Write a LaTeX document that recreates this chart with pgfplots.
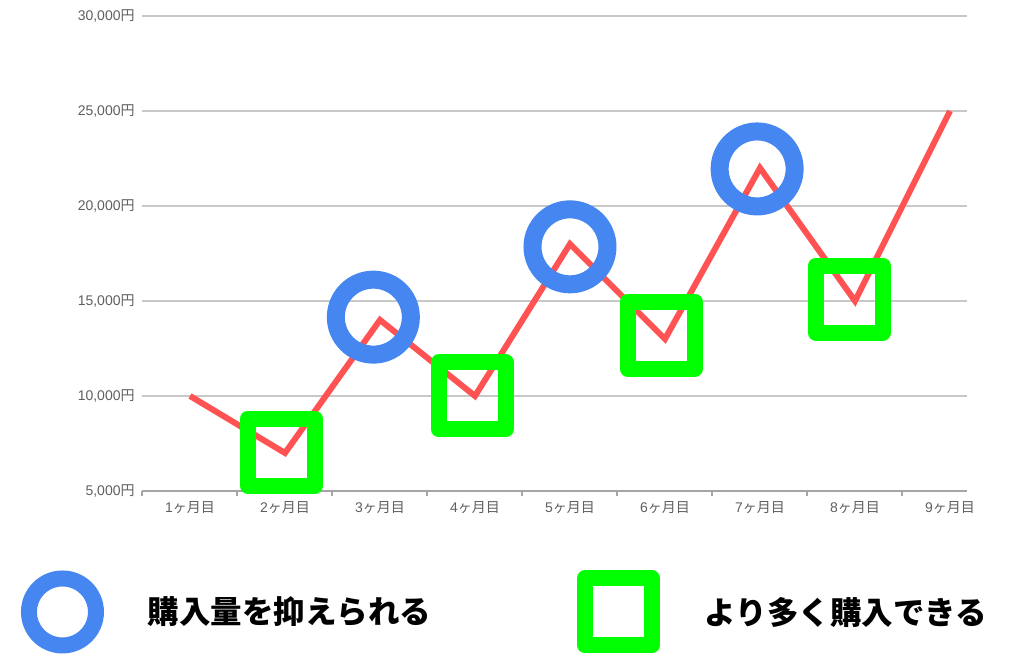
\documentclass[border=0pt]{standalone}
\usepackage{fontspec}
\setmainfont{Liberation Sans}
\newfontfamily\jp{Noto Sans CJK JP}
\usepackage{pgfplots}
\pgfplotsset{compat=1.18}
\definecolor{linered}{RGB}{255,82,82}
\definecolor{ringblue}{RGB}{70,134,240}
\definecolor{boxgreen}{RGB}{0,255,0}
\definecolor{gridgray}{RGB}{200,200,200}
\definecolor{axisgray}{RGB}{165,165,165}
\definecolor{labelgray}{RGB}{95,95,95}
\begin{document}
\begin{tikzpicture}
\useasboundingbox (0,0) rectangle (512pt,333.5pt);
\begin{axis}[
  at={(71.25pt,88pt)}, anchor=south west,
  scale only axis, width=412.25pt, height=237.5pt,
  xmin=0.5, xmax=9.179, ymin=5000, ymax=30000,
  clip=false,
  scaled y ticks=false,
  axis x line*=bottom, axis y line*=left,
  y axis line style={draw=none},
  x axis line style={draw=axisgray, line width=1pt},
  tick align=outside,
  major tick length=0pt,
  minor tick length=2.5pt,
  minor tick style={draw=axisgray, line width=1pt},
  xtick={1,2,3,4,5,6,7,8,9},
  minor xtick={0.5,1.5,2.5,3.5,4.5,5.5,6.5,7.5,8.5},
  xticklabels={1{\jp ヶ月目},2{\jp ヶ月目},3{\jp ヶ月目},4{\jp ヶ月目},5{\jp ヶ月目},6{\jp ヶ月目},7{\jp ヶ月目},8{\jp ヶ月目},9{\jp ヶ月目}},
  xticklabel style={anchor=north, inner sep=0pt, yshift=-5pt, font=\fontsize{7}{8}\selectfont, text=labelgray},
  ytick={5000,10000,15000,20000,25000,30000},
  yticklabels={{5,000{\jp 円}},{10,000{\jp 円}},{15,000{\jp 円}},{20,000{\jp 円}},{25,000{\jp 円}},{30,000{\jp 円}}},
  yticklabel style={anchor=east, inner sep=0pt, xshift=-3.75pt, font=\fontsize{7}{8}\selectfont, text=labelgray},
  ymajorgrids,
  grid style={draw=gridgray, line width=1pt},
  legend columns=2,
  legend cell align=left,
  legend style={at={(axis description cs:-0.1474,-0.2547)}, anchor=west,
    draw=none, fill=none, inner sep=0pt, outer sep=0pt, column sep=0pt,
    nodes={inner sep=0pt, text=black},
    font=\fontsize{15.75}{18}\jp\bfseries},
]
% price per month
\addplot[forget plot, draw=linered, line width=3pt] coordinates {
  (1,10000) (2,7000) (3,14000) (4,10000) (5,18000)
  (6,13000) (7,22000) (8,15000) (9,25000)};
% months where the amount bought is kept down
\addplot[only marks, mark=o, mark size=18.75pt,
  mark options={draw=ringblue, line width=9pt, fill=none},
  legend image code/.code={
    \path[draw=none, fill=none] (-20.75pt,-21pt) rectangle (20.75pt,21pt);
    \draw[ringblue, line width=8pt] (0pt,0pt) circle[radius=16.75pt];}]
  coordinates {(2.93,14150) (5.0,17850) (6.97,21950)};
\addlegendentry{\makebox[236.5pt][l]{\hspace*{22pt}購入量を抑えられる}}
% months where more can be bought
\addplot[only marks, mark=square, mark size=16.75pt,
  mark options={draw=boxgreen, line width=8pt, line join=round, fill=none},
  legend image code/.code={
    \path[draw=none, fill=none] (-20.75pt,-21pt) rectangle (22.75pt,21pt);
    \draw[boxgreen, line width=8pt, line join=round] (-16.75pt,-16.75pt) rectangle (16.75pt,16.75pt);}]
  coordinates {(1.96,7050) (3.97,10000) (5.96,13200) (7.94,15100)};
\addlegendentry{\hspace*{20.5pt}より多く購入できる}
\end{axis}
\end{tikzpicture}
\end{document}
